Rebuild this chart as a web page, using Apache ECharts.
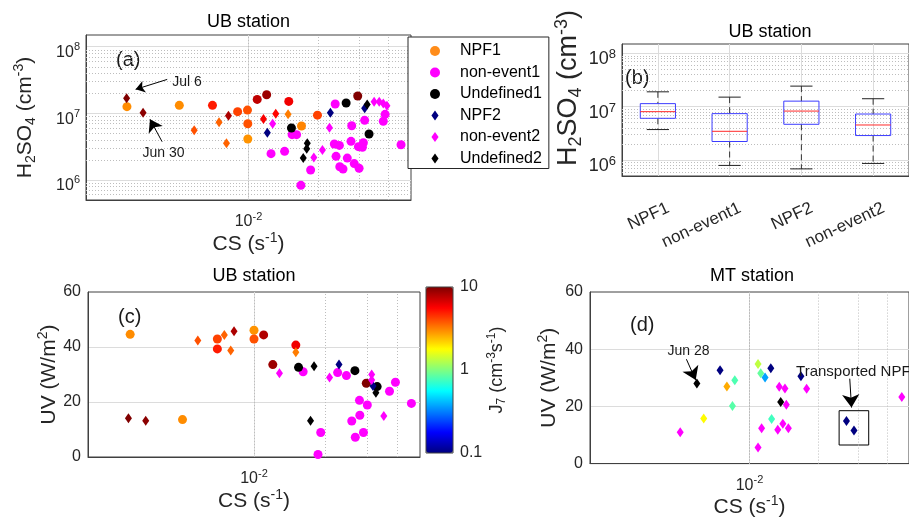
<!DOCTYPE html>
<html><head><meta charset="utf-8">
<script src="https://cdn.jsdelivr.net/npm/echarts@6/dist/echarts.min.js"></script>
<style>html,body{margin:0;padding:0;background:#fff}#c{width:909px;height:519px}</style>
</head><body><div id="c"></div>
<script>
// ---------------- data ----------------
const csRange = [0.002, 0.05];
const h2so4Range = [5e5, 1.5e8];
const uvRange = [0, 60];
const j7Range = [0.1, 10];
const j7Ticks = [0.1, 1, 10];
const csMinor = [0.003, 0.004, 0.005, 0.006, 0.007, 0.008, 0.009, 0.02, 0.03, 0.04];
const h2so4Minor = [6e5, 7e5, 8e5, 9e5, 2e6, 3e6, 4e6, 5e6, 6e6, 7e6, 8e6, 9e6, 2e7, 3e7, 4e7, 5e7, 6e7, 7e7, 8e7, 9e7];

// Panel (a): [CS, H2SO4, J7]
const aNPF1 = [
  [0.00300, 1.26e7, 3.0], [0.00504, 1.32e7, 3.0], [0.00700, 1.32e7, 5.0], [0.00898, 1.06e7, 4.2],
  [0.00990, 1.12e7, 3.9], [0.00993, 6.99e6, 3.9], [0.00993, 4.12e6, 2.9], [0.01090, 1.62e7, 7.5],
  [0.01197, 1.90e7, 8.8], [0.01490, 1.51e7, 6.0], [0.01690, 6.45e6, 3.1], [0.01980, 9.40e6, 4.2],
  [0.02950, 1.82e7, 10]
];
const aNon1 = [
  [0.01250, 2.48e6], [0.01430, 2.69e6], [0.01540, 4.78e6], [0.01610, 4.78e6], [0.01680, 8.3e5],
  [0.01850, 1.41e6], [0.02360, 1.38e7], [0.02340, 3.46e6], [0.02460, 3.30e6], [0.02380, 2.26e6],
  [0.02470, 1.58e6], [0.02550, 1.46e6], [0.02780, 6.50e6], [0.02760, 3.80e6], [0.02660, 2.13e6],
  [0.02850, 1.76e6], [0.02990, 1.50e6], [0.02970, 3.16e6], [0.03120, 3.62e6], [0.03090, 3.10e6],
  [0.03870, 9.66e6], [0.03800, 7.60e6], [0.04530, 3.38e6], [0.03160, 7.85e6]
];
const aUndef1 = [[0.01530, 6.02e6], [0.02630, 1.43e7], [0.03300, 4.90e6]];
const aNPF2 = [
  [0.00299, 1.68e7, 10], [0.00352, 1.02e7, 9.5], [0.00584, 5.56e6, 3.9], [0.00747, 7.33e6, 3.6],
  [0.00804, 3.55e6, 3.6], [0.00820, 9.20e6, 8.2], [0.01160, 8.20e6, 5.8], [0.01310, 9.90e6, 5.5],
  [0.01205, 5.12e6, 0.1], [0.01480, 9.66e6, 3.2], [0.02250, 1.02e7, 0.1], [0.03160, 1.19e7, 0.1]
];
const aNon2 = [
  [0.01270, 6.99e6], [0.01910, 2.18e6], [0.02080, 2.82e6], [0.02230, 6.10e6],
  [0.03470, 1.49e7], [0.03650, 1.49e7], [0.03800, 1.41e7], [0.03940, 1.30e7]
];
const aUndef2 = [[0.01790, 3.55e6], [0.01780, 2.95e6], [0.01720, 2.13e6], [0.03240, 1.36e7]];

// Panel (b): box statistics [min, Q1, median, Q3, max]
const boxCategories = ['NPF1', 'non-event1', 'NPF2', 'non-event2'];
const boxStats = [
  [3.72e6, 6.05e6, 8.06e6, 1.14e7, 1.90e7],
  [7.9e5, 2.22e6, 3.45e6, 7.40e6, 1.51e7],
  [6.8e5, 4.67e6, 8.27e6, 1.27e7, 2.43e7],
  [8.6e5, 2.87e6, 4.53e6, 7.28e6, 1.41e7]
];

// Panel (c): [CS, UV, J7]
const cNPF1 = [
  [0.00301, 44.6, 3.0], [0.00500, 13.6, 3.0], [0.00701, 42.9, 4.2], [0.00701, 39.3, 5.0],
  [0.01000, 46.1, 2.9], [0.01000, 42.9, 3.9], [0.01098, 44.4, 8.0], [0.01500, 40.7, 6.0],
  [0.01200, 33.6, 8.8], [0.02970, 26.8, 10]
];
const cNon1 = [
  [0.01610, 31.0], [0.02250, 30.7], [0.02450, 29.6], [0.03940, 27.2], [0.03720, 23.9],
  [0.02780, 20.6], [0.03000, 18.9], [0.04600, 19.5], [0.02580, 13.1], [0.02790, 15.2],
  [0.02670, 7.2], [0.02890, 8.9], [0.01910, 8.9], [0.01860, 0.9]
];
const cUndef1 = [[0.01540, 32.6], [0.02660, 31.4], [0.03300, 25.6]];
const cNPF2 = [
  [0.00296, 14.1, 10], [0.00350, 13.2, 9.5], [0.00580, 42.4, 3.9], [0.00750, 44.4, 3.6],
  [0.00824, 45.7, 8.2], [0.00798, 38.7, 3.6], [0.01500, 38.1, 3.2], [0.02280, 33.6, 0.1],
  [0.03170, 25.8, 0.1]
];
const cNon2 = [[0.01280, 30.5], [0.02080, 28.9], [0.03130, 30.0], [0.03130, 28.0], [0.03520, 14.9]];
const cUndef2 = [[0.01790, 33.0], [0.01730, 13.2], [0.03260, 23.4]];

// Panel (d) MT station: [CS, UV, J7]
const dNPF = [
  [0.00630, 15.8, 1.8], [0.00743, 32.6, 0.1], [0.00796, 27.0, 2.6], [0.00862, 29.1, 0.8],
  [0.00842, 20.1, 0.83], [0.01090, 34.8, 1.33], [0.01120, 31.6, 0.88], [0.01170, 30.1, 0.37],
  [0.01240, 33.3, 0.1], [0.01250, 15.6, 0.75], [0.01680, 30.5, 0.1], [0.02660, 14.9, 0.1],
  [0.02870, 11.6, 0.1]
];
const dNon = [
  [0.00497, 11.0], [0.01090, 5.6], [0.01130, 12.4], [0.01350, 26.9], [0.01430, 26.3],
  [0.01450, 20.6], [0.01400, 13.9], [0.01330, 11.8], [0.01480, 12.4], [0.01780, 26.2], [0.04650, 23.3]
];
const dUndef = [[0.00588, 28.0], [0.01370, 21.5]];

// annotations (data coordinates)
const annJul6 = {text: 'Jul 6', at: [0.0047, 2.94e7], from: [0.00447, 3.23e7], to: [0.00327, 2.29e7]};
const annJun30 = {text: 'Jun 30', at: [0.0035, 2.54e6], from: [0.00425, 3.75e6], to: [0.00377, 8.13e6]};
const annJun28 = {text: 'Jun 28', at: [0.00437, 39.4], from: [0.00529, 36.5], to: [0.00581, 29.2]};
const annTrans = {text: 'Transported NPF', at: [0.0160, 32.2], from: [0.0275, 29.7], to: [0.0280, 19.6]};
const transBox = [[0.0247, 18.5], [0.0333, 6.5]];

// ---------------- styles ----------------
const FONT = '"Liberation Sans", Arial, Helvetica, sans-serif';
const TXT = '#262626';
const AX = '#404040';
const GRIDC = '#dcdcdc';
const MINOR = '#bdbdbd';
const jet = ['#000080', '#0000ff', '#0080ff', '#00ffff', '#80ff80', '#ffff00', '#ff8000', '#ff0000', '#800000'];
const diamondIcon = 'path://M5,0L10,7L5,14L0,7Z';

function powLabel(v) {
  const e = Math.log10(v), r = Math.round(e);
  if (Math.abs(e - r) > 1e-6) return '';
  return '{b|10}{s|' + r + '}';
}
function powRich(fs) {
  return {
    b: {fontSize: fs, fontFamily: FONT, color: TXT, lineHeight: 22},
    s: {fontSize: Math.round(fs * 0.7), fontFamily: FONT, color: TXT, lineHeight: 9, verticalAlign: 'top'}
  };
}
function nameRich(fs, sfs, lh) {
  return {
    m: {fontSize: fs, fontFamily: FONT, color: TXT, lineHeight: lh},
    sb: {fontSize: sfs, fontFamily: FONT, color: TXT, lineHeight: 12, verticalAlign: 'bottom'},
    sp: {fontSize: sfs, fontFamily: FONT, color: TXT, lineHeight: 12, verticalAlign: 'top'}
  };
}
const csName = '{m|CS (s}{sp|-1}{m|)}';
const h2Name = '{m|H}{sb|2}{m|SO}{sb|4}{m| (cm}{sp|-3}{m|)}';
const uvName = '{m|UV (W/m}{sp|2}{m|)}';
const j7Name = '{m|J}{sb|7}{m| (cm}{sp|-3}{m|s}{sp|-1}{m|)}';

function splitL() {
  return {show: true, showMinLine: false, showMaxLine: false, lineStyle: {color: GRIDC, width: 1}};
}
function csAxis(gi, gap) {
  return {
    gridIndex: gi, type: 'log', logBase: 10, min: csRange[0], max: csRange[1],
    axisLine: {show: true, lineStyle: {color: AX}}, axisTick: {show: false}, splitLine: splitL(),
    axisLabel: {formatter: powLabel, rich: powRich(16), margin: 11, showMinLabel: false, showMaxLabel: false},
    name: csName, nameLocation: 'middle', nameGap: gap, nameTextStyle: {rich: nameRich(21, 14, 26)}
  };
}
function h2Axis(gi, fs, nfs, gap, shift) {
  return {
    gridIndex: gi, type: 'log', logBase: 10, min: h2so4Range[0], max: h2so4Range[1],
    axisLine: {show: true, lineStyle: {color: AX}}, axisTick: {show: false}, splitLine: splitL(),
    axisLabel: {formatter: powLabel, rich: powRich(fs), margin: 6, padding: [12, 0, 0, 0], showMinLabel: false, showMaxLabel: false},
    name: h2Name, nameLocation: 'middle', nameRotate: 90, nameGap: gap,
    nameTextStyle: {rich: nameRich(nfs, Math.round(nfs * 0.66), nfs + 5), padding: [0, 0, 0, shift]}
  };
}
function uvAxis(gi, gap) {
  return {
    gridIndex: gi, type: 'value', min: uvRange[0], max: uvRange[1], interval: 20,
    axisLine: {show: true, lineStyle: {color: AX}}, axisTick: {show: false}, splitLine: splitL(),
    axisLabel: {fontSize: 16, color: TXT, fontFamily: FONT, margin: 7},
    name: uvName, nameLocation: 'middle', nameRotate: 90, nameGap: gap, nameTextStyle: {rich: nameRich(21, 14, 26)}
  };
}
function minorLines(xs, ys) {
  const data = [];
  xs.forEach(v => data.push({xAxis: v}));
  ys.forEach(v => data.push({yAxis: v}));
  return data;
}
function helper(idx, mlData, extra) {
  const s = {
    type: 'scatter', name: '_grid' + idx, xAxisIndex: idx, yAxisIndex: idx, data: [], z: 1, silent: true,
    markLine: {z: 1, silent: true, symbol: ['none', 'none'], animation: false, label: {show: false},
      lineStyle: {color: MINOR, type: [1, 2], width: 1}, emphasis: {disabled: true}, data: mlData}
  };
  return Object.assign(s, extra || {});
}
function arrow(a, size) {
  return [{coord: a.from, symbol: 'none'},
          {coord: a.to, symbol: 'arrow', symbolSize: size, lineStyle: {color: '#000', type: 'solid', width: 1}}];
}
function textMark(a, fs) {
  return {coord: a.at, symbol: 'circle', symbolSize: 0,
    label: {show: true, position: 'right', distance: 0, formatter: a.text, fontSize: fs, fontFamily: FONT, color: '#1a1a1a'}};
}
function npf(arr) { return arr.map(d => [d[0], d[1], Math.log10(d[2])]); }
function pts(name, data, shape, gi, color) {
  const s = {type: 'scatter', name: name, xAxisIndex: gi, yAxisIndex: gi, data: data,
    symbol: shape === 'c' ? 'circle' : 'diamond', symbolSize: shape === 'c' ? 9 : [7, 10],
    itemStyle: {opacity: 1}, z: 3, animation: false};
  if (color) s.itemStyle.color = color;
  return s;
}

// ---------------- series ----------------
const series = [];
// panel a
const aLines = minorLines(csMinor, h2so4Minor).concat([arrow(annJul6, 9), arrow(annJun30, 12)]);
series.push(helper(0, aLines, {markPoint: {z: 5, silent: true, animation: false, data: [textMark(annJul6, 14), textMark(annJun30, 14)]}})); // 0
series.push(pts('NPF1', npf(aNPF1), 'c', 0));            // 1
series.push(pts('non-event1', aNon1, 'c', 0, '#ff00ff')); // 2
series.push(pts('Undefined1', aUndef1, 'c', 0, '#000'));  // 3
series.push(pts('NPF2', npf(aNPF2), 'd', 0));            // 4
series.push(pts('non-event2', aNon2, 'd', 0, '#ff00ff')); // 5
series.push(pts('Undefined2', aUndef2, 'd', 0, '#000'));  // 6
// panel b
const bLines = minorLines([], h2so4Minor).concat(boxCategories.map(c => ({xAxis: c, lineStyle: {color: GRIDC, type: 'solid'}})));
series.push(helper(1, bLines)); // 7
series.push({
  type: 'custom', name: 'box', xAxisIndex: 1, yAxisIndex: 1, z: 3, silent: true, animation: false, clip: false,
  data: boxStats.map((s, i) => [i].concat(s)),
  encode: {x: 0, y: [1, 2, 3, 4, 5]},
  renderItem: function (params, api) {
    const i = api.value(0);
    const bw = api.coord([1, 1e7])[0] - api.coord([0, 1e7])[0];
    const half = bw * 0.245, cap = bw * 0.155;
    const p = k => api.coord([i, api.value(k)]);
    const pMin = p(1), pQ1 = p(2), pMed = p(3), pQ3 = p(4), pMax = p(5);
    const cx = pMin[0];
    const dash = {stroke: '#333', lineWidth: 1, lineDash: [6, 4], fill: null};
    const solid = {stroke: '#222', lineWidth: 1, fill: null};
    return {type: 'group', children: [
      {type: 'line', shape: {x1: cx, y1: pMax[1], x2: cx, y2: pQ3[1]}, style: dash},
      {type: 'line', shape: {x1: cx, y1: pQ1[1], x2: cx, y2: pMin[1]}, style: dash},
      {type: 'line', shape: {x1: cx - cap, y1: pMax[1], x2: cx + cap, y2: pMax[1]}, style: solid},
      {type: 'line', shape: {x1: cx - cap, y1: pMin[1], x2: cx + cap, y2: pMin[1]}, style: solid},
      {type: 'rect', shape: {x: cx - half, y: pQ3[1], width: 2 * half, height: pQ1[1] - pQ3[1]}, style: {fill: null, stroke: '#3c3cff', lineWidth: 1}},
      {type: 'line', shape: {x1: cx - half, y1: pMed[1], x2: cx + half, y2: pMed[1]}, style: {stroke: '#ff2a2a', lineWidth: 1}}
    ]};
  }
}); // 8
// panel c
series.push(helper(2, minorLines(csMinor, []))); // 9
series.push(pts('NPF1', npf(cNPF1), 'c', 2));            // 10
series.push(pts('non-event1', cNon1, 'c', 2, '#ff00ff')); // 11
series.push(pts('Undefined1', cUndef1, 'c', 2, '#000'));  // 12
series.push(pts('NPF2', npf(cNPF2), 'd', 2));            // 13
series.push(pts('non-event2', cNon2, 'd', 2, '#ff00ff')); // 14
series.push(pts('Undefined2', cUndef2, 'd', 2, '#000'));  // 15
// panel d
series.push(helper(3, minorLines(csMinor, []).concat([arrow(annJun28, 13), arrow(annTrans, 13)]), {
  markPoint: {z: 5, silent: true, animation: false, data: [textMark(annJun28, 14), textMark(annTrans, 15)]},
  markArea: {z: 1, silent: true, animation: false, itemStyle: {color: 'rgba(0,0,0,0)', borderColor: '#000', borderWidth: 1},
    data: [[{coord: transBox[0]}, {coord: transBox[1]}]]}
})); // 16
series.push(pts('MT NPF', npf(dNPF), 'd', 3));               // 17
series.push(pts('MT non-event', dNon, 'd', 3, '#ff00ff'));   // 18
series.push(pts('MT undefined', dUndef, 'd', 3, '#000'));    // 19
// colorbar axis holder
series.push({type: 'scatter', name: '_cb', xAxisIndex: 4, yAxisIndex: 4, data: [], silent: true}); // 20

const option = {
  animation: false,
  backgroundColor: '#fff',
  textStyle: {fontFamily: FONT},
  grid: [
    {left: 86, top: 35, width: 325, height: 165, show: true, borderColor: AX, borderWidth: 1, backgroundColor: 'transparent'},
    {left: 622, top: 44, width: 296, height: 132, show: true, borderColor: AX, borderWidth: 1, backgroundColor: 'transparent'},
    {left: 88, top: 292, width: 332, height: 165, show: true, borderColor: AX, borderWidth: 1, backgroundColor: 'transparent'},
    {left: 590, top: 292, width: 326, height: 178, show: true, borderColor: AX, borderWidth: 1, backgroundColor: 'transparent'},
    {left: 426, top: 287, width: 27, height: 166, show: true, borderColor: AX, borderWidth: 1, backgroundColor: 'transparent', z: 6}
  ],
  xAxis: [
    csAxis(0, 24),
    {gridIndex: 1, type: 'category', data: boxCategories, boundaryGap: true,
      axisLine: {show: true, lineStyle: {color: AX}}, axisTick: {show: false}, splitLine: {show: false},
      axisLabel: {interval: 0, rotate: 25, fontSize: 17, color: TXT, fontFamily: FONT, margin: 9,
        align: 'right', verticalAlign: 'top', padding: [16, 0, 0, 0]}},
    csAxis(2, 28),
    csAxis(3, 28),
    {gridIndex: 4, type: 'value', show: false, min: 0, max: 1}
  ],
  yAxis: [
    h2Axis(0, 16, 21, 48, 0),
    h2Axis(1, 18, 27, 34, 44),
    uvAxis(2, 26),
    uvAxis(3, 28),
    {gridIndex: 4, type: 'log', logBase: 10, min: j7Range[0], max: j7Range[1], position: 'right',
      axisLine: {show: false}, axisTick: {show: false}, splitLine: {show: false},
      axisLabel: {fontSize: 16, color: TXT, fontFamily: FONT, margin: 7,
        formatter: v => { const t = j7Ticks.find(k => Math.abs(v / k - 1) < 1e-6); return t === undefined ? '' : String(t); }},
      name: j7Name, nameLocation: 'middle', nameRotate: 90, nameGap: 29, nameTextStyle: {rich: nameRich(18, 12, 22)}}
  ],
  visualMap: {
    type: 'continuous', min: -1, max: 1, dimension: 2, seriesIndex: [1, 4, 10, 13, 17],
    inRange: {color: jet}, calculable: false, hoverLink: false, realtime: false, orient: 'vertical',
    left: 426, top: 287, itemWidth: 27, itemHeight: 166, padding: 0, text: null, showLabel: false
  },
  legend: {
    data: [
      {name: 'NPF1', icon: 'circle', itemStyle: {color: '#ff8c1a'}},
      {name: 'non-event1', icon: 'circle', itemStyle: {color: '#ff00ff'}},
      {name: 'Undefined1', icon: 'circle', itemStyle: {color: '#000'}},
      {name: 'NPF2', icon: diamondIcon, itemStyle: {color: '#000080'}},
      {name: 'non-event2', icon: diamondIcon, itemStyle: {color: '#ff00ff'}},
      {name: 'Undefined2', icon: diamondIcon, itemStyle: {color: '#000'}}
    ],
    orient: 'vertical', left: 408, top: 37, itemWidth: 40, itemHeight: 10, itemGap: 3.5,
    padding: [5, 7, 1, 22], borderColor: '#262626', borderWidth: 1, backgroundColor: '#fff',
    textStyle: {fontSize: 16, color: '#000', lineHeight: 18, fontFamily: FONT}, selectedMode: false
  },
  graphic: [
    {type: 'text', x: 248.5, y: 22.5, style: {text: 'UB station', fontSize: 18, fontFamily: FONT, fill: '#000', align: 'center', verticalAlign: 'middle'}},
    {type: 'text', x: 770, y: 32, style: {text: 'UB station', fontSize: 18, fontFamily: FONT, fill: '#000', align: 'center', verticalAlign: 'middle'}},
    {type: 'text', x: 254, y: 276, style: {text: 'UB station', fontSize: 18, fontFamily: FONT, fill: '#000', align: 'center', verticalAlign: 'middle'}},
    {type: 'text', x: 752, y: 276, style: {text: 'MT station', fontSize: 18, fontFamily: FONT, fill: '#000', align: 'center', verticalAlign: 'middle'}},
    {type: 'text', x: 116, y: 60, style: {text: '(a)', fontSize: 20, fontFamily: FONT, fill: '#1a1a1a', align: 'left', verticalAlign: 'middle'}},
    {type: 'text', x: 625, y: 78, style: {text: '(b)', fontSize: 20, fontFamily: FONT, fill: '#1a1a1a', align: 'left', verticalAlign: 'middle'}},
    {type: 'text', x: 118, y: 317, style: {text: '(c)', fontSize: 20, fontFamily: FONT, fill: '#1a1a1a', align: 'left', verticalAlign: 'middle'}},
    {type: 'text', x: 630, y: 325, style: {text: '(d)', fontSize: 20, fontFamily: FONT, fill: '#1a1a1a', align: 'left', verticalAlign: 'middle'}}
  ],
  series: series
};
const chart = echarts.init(document.getElementById('c'), null, {renderer: 'canvas', width: 909, height: 519});
chart.setOption(option);
</script>
</body></html>
